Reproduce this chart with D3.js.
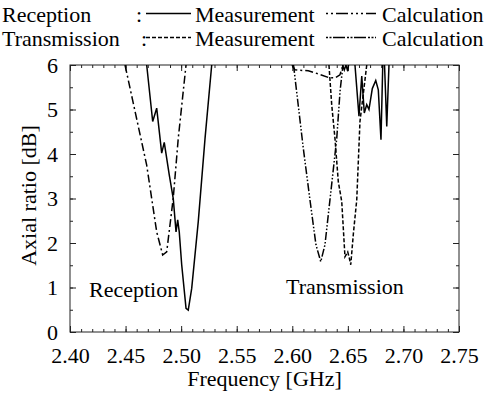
<!DOCTYPE html>
<html>
<head>
<meta charset="utf-8">
<script src="https://cdn.jsdelivr.net/npm/d3@7"></script>
<style>
  body { margin: 0; background: #fff; }
</style>
</head>
<body>
<div id="chart"></div>
<script>
// axial ratio [dB] vs frequency [GHz]; null = curve leaves the 0-6 dB window
const recMeasFreq = [2.469, 2.4744, 2.478, 2.4825, 2.4848, 2.4893, 2.4929, 2.4954, 2.4969, 2.4983, 2.5005, 2.5044, 2.5064, 2.5095, 2.5154, 2.5215, 2.5275,
  null,
  2.6452, 2.6468, 2.6483, 2.6499, 2.6506,
  null,
  2.6564, 2.6600, 2.6625, 2.6648, 2.6670, 2.6690, 2.6720, 2.6751, 2.6774, 2.6798, 2.6814,
  null,
  2.6830, 2.6850, 2.6870];
const recMeasAR = [6.0, 4.73, 5.03, 4.02, 4.26, 3.53, 3.0, 2.25, 2.52, 2.25, 1.51, 0.53, 0.49, 0.98, 2.48, 4.35, 6.0,
  null,
  6.0, 5.89, 6.0, 5.86, 6.0,
  null,
  6.0, 4.85, 5.75, 4.92, 5.11, 5.0, 5.47, 5.65, 5.44, 4.32, 6.0,
  null,
  6.0, 4.62, 6.0];

const recCalcFreq = [2.4495, 2.469, 2.478, 2.4834, 2.487, 2.4929, 2.4974, 2.5044,
  null,
  2.5998, 2.6024, 2.6144, 2.6234, 2.6324, 2.6384, 2.6429, 2.6456];
const recCalcAR = [6.0, 3.75, 2.25, 1.73, 1.80, 3.01, 4.35, 6.0,
  null,
  6.0, 5.89, 5.87, 5.80, 5.72, 5.71, 5.78, 6.0];

const trMeasFreq = [2.633, 2.6355, 2.6384, 2.6414, 2.6445, 2.6474, 2.6499, 2.6513, 2.6526, 2.655, 2.658, 2.6609, 2.667];
const trMeasAR = [6.0, 5.10, 4.35, 3.38, 2.93, 1.69, 1.80, 1.66, 1.51, 2.22, 2.97, 4.73, 6.0];

const trCalcFreq = [2.6011, 2.6099, 2.6159, 2.6213, 2.6256, 2.6294, 2.6339, 2.640, 2.643, 2.6456];
const trCalcAR = [6.0, 4.13, 2.97, 1.96, 1.58, 1.96, 2.97, 4.35, 5.42, 6.0];

const xTicks = [2.40, 2.45, 2.50, 2.55, 2.60, 2.65, 2.70, 2.75];
const yTicks = [0, 1, 2, 3, 4, 5, 6];

const FONT = 'Liberation Serif';

const W = 494, H = 395;
const margin = {left: 70, right: 35, top: 65, bottom: 63};
const iw = W - margin.left - margin.right;
const ih = H - margin.top - margin.bottom;

const svg = d3.select('#chart').append('svg')
  .attr('width', W)
  .attr('height', H)
  .attr('font-family', FONT);

const x = d3.scaleLinear().domain([2.40, 2.75]).range([0, iw]);
const y = d3.scaleLinear().domain([0, 6]).range([ih, 0]);

const g = svg.append('g').attr('transform', `translate(${margin.left},${margin.top})`);

g.append('clipPath').attr('id', 'clip')
  .append('rect').attr('width', iw).attr('height', ih);

function addText(parent, x0, y0, str) {
  return parent.append('text')
    .attr('x', x0).attr('y', y0)
    .attr('font-family', FONT)
    .attr('font-size', 22)
    .attr('fill', '#000')
    .text(str);
}

// minor ticks first, then major ticks with labels
const xMinor = d3.range(0, 36).map(i => 2.40 + i * 0.01);
const yMinor = d3.range(0, 13).map(i => i * 0.5);

function styleAxis(sel) {
  sel.attr('font-family', FONT).attr('font-size', 22);
  sel.select('.domain').remove();
  sel.selectAll('line').attr('stroke', '#222').attr('stroke-width', 1);
  sel.selectAll('text').attr('fill', '#000');
}

g.append('g').attr('transform', `translate(0,${ih})`)
  .call(d3.axisBottom(x).tickValues(xMinor).tickSizeInner(-3).tickSizeOuter(0).tickFormat(''))
  .call(styleAxis);
g.append('g')
  .call(d3.axisTop(x).tickValues(xMinor).tickSizeInner(-3).tickSizeOuter(0).tickFormat(''))
  .call(styleAxis);
g.append('g').attr('transform', `translate(0,${ih})`)
  .call(d3.axisBottom(x).tickValues(xTicks).tickSizeInner(-6).tickSizeOuter(0).tickPadding(15).tickFormat(d3.format('.2f')))
  .call(styleAxis);
g.append('g')
  .call(d3.axisTop(x).tickValues(xTicks).tickSizeInner(-6).tickSizeOuter(0).tickFormat(''))
  .call(styleAxis);

g.append('g')
  .call(d3.axisLeft(y).tickValues(yMinor).tickSizeInner(-3).tickSizeOuter(0).tickFormat(''))
  .call(styleAxis);
g.append('g').attr('transform', `translate(${iw},0)`)
  .call(d3.axisRight(y).tickValues(yMinor).tickSizeInner(-3).tickSizeOuter(0).tickFormat(''))
  .call(styleAxis);
g.append('g')
  .call(d3.axisLeft(y).tickValues(yTicks).tickSizeInner(-6).tickSizeOuter(0).tickPadding(12).tickFormat(d3.format('d')))
  .call(styleAxis);
g.append('g').attr('transform', `translate(${iw},0)`)
  .call(d3.axisRight(y).tickValues(yTicks).tickSizeInner(-6).tickSizeOuter(0).tickFormat(''))
  .call(styleAxis);

g.append('rect')
  .attr('width', iw).attr('height', ih)
  .attr('fill', 'none').attr('stroke', '#222').attr('stroke-width', 1);

// curves
const line = d3.line()
  .defined(d => d[0] != null && d[1] != null)
  .x(d => x(d[0]))
  .y(d => y(d[1]));

const series = [
  {f: recMeasFreq, v: recMeasAR, dash: null},
  {f: recCalcFreq, v: recCalcAR, dash: '8,3,2,3'},
  {f: trMeasFreq, v: trMeasAR, dash: '4,2'},
  {f: trCalcFreq, v: trCalcAR, dash: '8,2,1.5,2,1.5,2'}
];

const curves = g.append('g').attr('clip-path', 'url(#clip)');
series.forEach(s => {
  curves.append('path')
    .datum(d3.zip(s.f, s.v))
    .attr('d', line)
    .attr('fill', 'none')
    .attr('stroke', '#000')
    .attr('stroke-width', 1.5)
    .attr('stroke-dasharray', s.dash);
});

// in-plot labels
addText(g, 19, 232, 'Reception');
addText(g, 216, 229, 'Transmission');

// axis titles
addText(svg, margin.left + iw / 2, 386, 'Frequency [GHz]')
  .attr('text-anchor', 'middle');

addText(svg, 0, 0, 'Axial ratio [dB]')
  .attr('x', null).attr('y', null)
  .attr('transform', `translate(36,${margin.top + ih / 2 - 3}) rotate(-90)`)
  .attr('text-anchor', 'middle');

// legend
const legend = svg.append('g');
const rows = [
  {label: 'Reception', colonX: 136, y: 21.5, measDash: null, calcDash: '2,3,2,3,12,3,2,3'},
  {label: 'Transmission', colonX: 141, y: 45.5, measDash: '4,2', calcDash: '2,1.5,2,1.5,12,2'}
];
rows.forEach(r => {
  addText(legend, 2, r.y, r.label);
  addText(legend, r.colonX, r.y, ':');
  legend.append('line')
    .attr('x1', 146).attr('x2', 191).attr('y1', r.y - 8).attr('y2', r.y - 8)
    .attr('stroke', '#000').attr('stroke-width', 1.3)
    .attr('stroke-dasharray', r.measDash);
  addText(legend, 195, r.y, 'Measurement');
  legend.append('line')
    .attr('x1', 326).attr('x2', 376).attr('y1', r.y - 8).attr('y2', r.y - 8)
    .attr('stroke', '#000').attr('stroke-width', 1.3)
    .attr('stroke-dasharray', r.calcDash);
  addText(legend, 382, r.y, 'Calculation');
});
</script>
</body>
</html>
